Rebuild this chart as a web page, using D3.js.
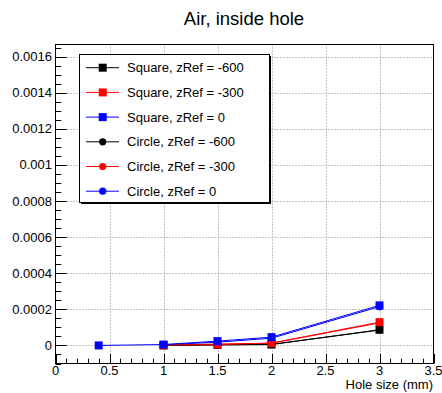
<!DOCTYPE html>
<html>
<head>
<meta charset="utf-8">
<script src="https://cdn.jsdelivr.net/npm/d3@7"></script>
<style>
  html, body { margin: 0; padding: 0; background: #fff; }
  svg { display: block; font-family: "Liberation Sans", Arial, sans-serif; }
</style>
</head>
<body>
<svg id="chart" width="442" height="393"></svg>
<script>
// Hole sizes (mm) per series
const xSquareBlue = [0.4, 1, 1.5, 2, 3];
const xSquareOther = [1, 1.5, 2, 3];
const xCircle = [1, 1.5, 2, 3];

// Series values
const squareM600 = [0.0, 0.000003, 0.000005, 0.000087];
const squareM300 = [0.000001, 0.000005, 0.000013, 0.000129];
const square0 = [0.0, 0.000005, 0.000024, 0.000046, 0.000222];
const circleM600 = [0.0, 0.000004, 0.000006, 0.000085];
const circleM300 = [0.000002, 0.000008, 0.000012, 0.000125];
const circle0 = [0.000004, 0.000018, 0.000040, 0.000215];

const legendLabels = [
  "Square, zRef = -600", "Square, zRef = -300", "Square, zRef = 0",
  "Circle, zRef = -600", "Circle, zRef = -300", "Circle, zRef = 0"
];
const xTickLabels = ["0", "0.5", "1", "1.5", "2", "2.5", "3", "3.5"];
const yTickLabels = ["0", "0.0002", "0.0004", "0.0006", "0.0008", "0.001", "0.0012", "0.0014", "0.0016"];

const titleText = "Air, inside hole";
const xAxisTitle = "Hole size (mm)";

const svg = d3.select("#chart");
const frame = { left: 55.5, right: 433.5, top: 44.5, bottom: 363.5 };

const x = d3.scaleLinear().domain([0, 3.5]).range([frame.left, frame.right]);
const y = d3.scaleLinear().domain([-0.0001, 0.001667]).range([frame.bottom, frame.top]);

// series: circles drawn first, squares on top
const series = [
  { xs: xCircle, ys: circleM600, color: "#000000", shape: "circle" },
  { xs: xCircle, ys: circleM300, color: "#ff0000", shape: "circle" },
  { xs: xCircle, ys: circle0, color: "#0000ff", shape: "circle" },
  { xs: xSquareOther, ys: squareM600, color: "#000000", shape: "square" },
  { xs: xSquareOther, ys: squareM300, color: "#ff0000", shape: "square" },
  { xs: xSquareBlue, ys: square0, color: "#0000ff", shape: "square" }
];
const legendSeries = [series[3], series[4], series[5], series[0], series[1], series[2]];

// grid
const xMajor = d3.range(0, 3.5001, 0.5);
const yMajor = d3.range(0, 0.00161, 0.0002);
const grid = svg.append("g").attr("stroke", "#888").attr("stroke-width", 1).attr("stroke-dasharray", "1,2");
grid.selectAll("line.gx").data(xMajor.slice(1, -1)).join("line")
  .attr("x1", d => Math.round(x(d)) + 0.5).attr("x2", d => Math.round(x(d)) + 0.5)
  .attr("y1", frame.top).attr("y2", frame.bottom);
grid.selectAll("line.gy").data(yMajor).join("line")
  .attr("y1", d => Math.round(y(d)) + 0.5).attr("y2", d => Math.round(y(d)) + 0.5)
  .attr("x1", frame.left).attr("x2", frame.right);

// ticks (inside frame)
const ticks = svg.append("g").attr("stroke", "#000").attr("stroke-width", 1);
const xMinor = d3.range(0, 3.5001, 0.1);
ticks.selectAll("line.xt").data(xMinor).join("line")
  .attr("x1", d => Math.round(x(d)) + 0.5).attr("x2", d => Math.round(x(d)) + 0.5)
  .attr("y1", frame.bottom)
  .attr("y2", (d, i) => frame.bottom - (i % 5 === 0 ? 9.6 : 4.8));
const yMinor = d3.range(-0.0001, 0.00166, 0.00005);
ticks.selectAll("line.yt").data(yMinor).join("line")
  .attr("y1", d => Math.round(y(d)) + 0.5).attr("y2", d => Math.round(y(d)) + 0.5)
  .attr("x1", frame.left)
  .attr("x2", d => frame.left + (Math.abs(Math.round(d / 0.00005)) % 4 === 0 ? 11.3 : 5.7));

// frame
svg.append("rect")
  .attr("x", frame.left).attr("y", frame.top)
  .attr("width", frame.right - frame.left).attr("height", frame.bottom - frame.top)
  .attr("fill", "none").attr("stroke", "#000").attr("stroke-width", 1);

// tick labels
svg.append("g").selectAll("text").data(xTickLabels).join("text")
  .attr("x", (d, i) => x(xMajor[i]))
  .attr("y", 375)
  .attr("text-anchor", "middle")
  .attr("font-size", 13)
  .attr("fill", "#000")
  .text(d => d);
svg.append("g").selectAll("text").data(yTickLabels).join("text")
  .attr("x", 52)
  .attr("y", (d, i) => y(yMajor[i]))
  .attr("dy", "0.35em")
  .attr("text-anchor", "end")
  .attr("font-size", 13)
  .attr("fill", "#000")
  .text(d => d);

// axis title and chart title
svg.append("text").attr("x", 433).attr("y", 389).attr("text-anchor", "end")
  .attr("font-size", 13).attr("fill", "#000").text(xAxisTitle);
svg.append("text").attr("x", 244).attr("y", 25).attr("text-anchor", "middle")
  .attr("font-size", 18.5).attr("fill", "#000").text(titleText);

// marker helper
function drawMarker(g, cx, cy, s) {
  if (s.shape === "square") {
    g.append("rect").attr("x", cx - 4).attr("y", cy - 4).attr("width", 8).attr("height", 8)
      .attr("fill", s.color);
  } else {
    g.append("circle").attr("cx", cx).attr("cy", cy).attr("r", 3.6).attr("fill", s.color);
  }
}

// data
const plot = svg.append("g");
const line = d3.line().x(d => x(d[0])).y(d => y(d[1]));
series.forEach(s => {
  const pts = s.xs.map((v, i) => [v, s.ys[i]]);
  plot.append("path").attr("d", line(pts)).attr("fill", "none")
    .attr("stroke", s.color).attr("stroke-width", 1);
});
series.forEach(s => {
  s.xs.forEach((v, i) => drawMarker(plot, x(v), y(s.ys[i]), s));
});

// legend
const leg = { x: 79.5, y: 54.5, w: 190, h: 148 };
const lg = svg.append("g");
lg.append("rect").attr("x", leg.x + 1.5).attr("y", leg.y + 1.5).attr("width", leg.w).attr("height", leg.h)
  .attr("fill", "#000");
lg.append("rect").attr("x", leg.x).attr("y", leg.y).attr("width", leg.w).attr("height", leg.h)
  .attr("fill", "#fff").attr("stroke", "#000").attr("stroke-width", 1);
legendSeries.forEach((s, i) => {
  const cy = 67.7 + i * 24.7;
  lg.append("line").attr("x1", 86).attr("x2", 119).attr("y1", cy).attr("y2", cy)
    .attr("stroke", s.color).attr("stroke-width", 1);
  drawMarker(lg, 102.7, cy, s);
  lg.append("text").attr("x", 127).attr("y", cy).attr("dy", "0.35em")
    .attr("font-size", 13).attr("fill", "#000").text(legendLabels[i]);
});
</script>
</body>
</html>
